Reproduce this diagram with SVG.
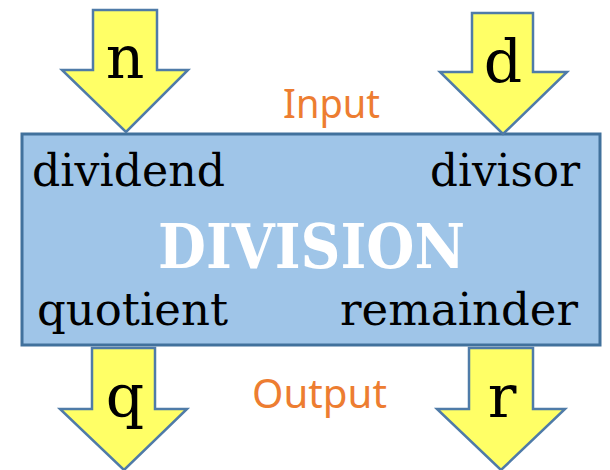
<svg xmlns="http://www.w3.org/2000/svg" width="610" height="470" viewBox="0 0 610 470">
<style>
.arrow{fill:#FFFF66;stroke:#4F7BA8;stroke-width:2.5;stroke-linejoin:miter}
.box{fill:#9FC5E8;stroke:#41719C;stroke-width:3}
.ser{font-family:"DejaVu Serif","Liberation Serif",serif;fill:#000}
.lbl{font-size:45px}
.big{font-size:60px;text-anchor:middle}
.title{font-family:"DejaVu Serif","Liberation Serif",serif;font-weight:bold;font-size:62px;fill:#fff}
.io{font-family:"Noto Sans","Open Sans",sans-serif;font-size:40px;fill:#ED7D31}
</style>
<rect width="610" height="470" fill="#fff"/>
<g id="division">
<rect class="box" x="22" y="134" width="578" height="211"/>
<text class="ser lbl" x="32" y="186" textLength="193" lengthAdjust="spacingAndGlyphs">dividend</text>
<text class="ser lbl" x="430" y="186" textLength="150" lengthAdjust="spacingAndGlyphs">divisor</text>
<text class="title" x="158" y="268" textLength="307" lengthAdjust="spacingAndGlyphs">DIVISION</text>
<text class="ser lbl" x="37" y="325" textLength="191" lengthAdjust="spacingAndGlyphs">quotient</text>
<text class="ser lbl" x="340" y="325" textLength="238" lengthAdjust="spacingAndGlyphs">remainder</text>
</g>
<g id="connectors">
<g id="arrow-n">
<polygon class="arrow" points="93,10 157,10 157,70 188,70 126,132 62,70 93,70"/>
<text class="ser big" x="125" y="78">n</text>
</g>
<g id="arrow-d">
<polygon class="arrow" points="472,13 533,13 533,72 567,72 503,134 440,72 472,72"/>
<text class="ser big" x="503" y="82">d</text>
</g>
<g id="arrow-q">
<polygon class="arrow" points="92,348 155,348 155,409 187,409 124,470 60,409 92,409"/>
<text class="ser big" x="125" y="417">q</text>
</g>
<g id="arrow-r">
<polygon class="arrow" points="469,348 533,348 533,409 565,409 501,470 437,409 469,409"/>
<text class="ser big" x="502" y="417">r</text>
</g>
</g>
<g id="input-label"><text class="io" x="283" y="118" textLength="97" lengthAdjust="spacingAndGlyphs">Input</text></g>
<g id="output-label"><text class="io" x="252" y="408" textLength="135" lengthAdjust="spacingAndGlyphs">Output</text></g>
</svg>
